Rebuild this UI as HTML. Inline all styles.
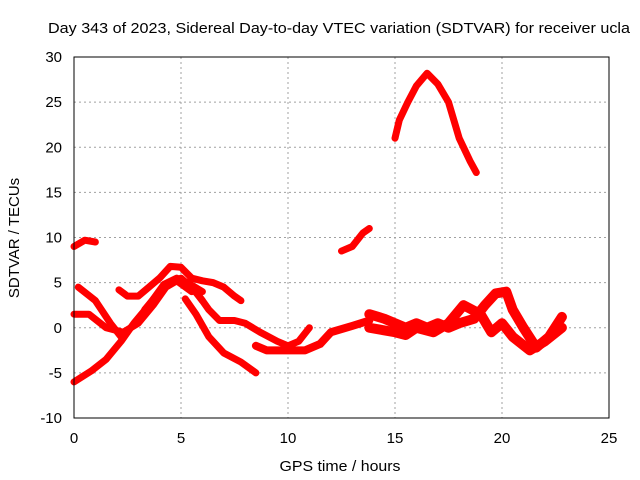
<!DOCTYPE html>
<html><head><meta charset="utf-8"><style>
body{margin:0;background:#fff}
svg{display:block;font-family:"Liberation Sans",sans-serif;font-size:14px}
</style></head><body>
<svg id="c" width="640" height="480">
<text x="339" y="33" text-anchor="middle" textLength="582" lengthAdjust="spacingAndGlyphs" font-size="15" fill="#000">Day 343 of 2023, Sidereal Day-to-day VTEC variation (SDTVAR) for receiver ucla</text>
<text x="340" y="471" text-anchor="middle" textLength="121" lengthAdjust="spacingAndGlyphs" font-size="15">GPS time / hours</text>
<text transform="translate(19,238) rotate(-90)" text-anchor="middle" font-size="15">SDTVAR / TECUs</text>
<g id="grid"></g><g id="series"></g>
<rect x="74" y="57" width="535" height="361" fill="none" stroke="#000" stroke-width="1"/>
</svg>
<script>
const xTicks=[0,5,10,15,20,25];
const yTicks=[-10,-5,0,5,10,15,20,25,30];
const s1=[[15,21],[15.2,23],[15.6,25],[16,26.8],[16.5,28.2],[17,27],[17.5,25],[18,21],[18.5,18.5],[18.8,17.2]];
const s2=[[12.5,8.5],[13,9],[13.5,10.5],[13.8,11]];
const s3=[[0,9],[0.5,9.7],[1,9.5]];
const s4=[[0.2,4.5],[1,3],[1.7,0.5],[2.2,-1]];
const s5=[[0,1.5],[0.7,1.5],[1.5,0],[2.3,-0.5],[3,0.5],[3.7,2.5],[4.3,4.5],[4.8,5.2],[5.5,4]];
const s6=[[0,-6],[0.8,-4.8],[1.5,-3.5],[2.2,-1.5],[2.8,0.5],[3.5,2.5],[4.2,4.8],[4.8,5.5],[5.3,5],[6,4]];
const s7=[[2.1,4.2],[2.5,3.5],[3,3.5],[3.5,4.5],[4,5.5],[4.5,6.8],[5,6.7],[5.5,5.5],[6,5.2],[6.5,5],[7,4.5],[7.5,3.5],[7.8,3]];
const s8=[[3.3,2],[4,4],[4.5,5],[5,5.3],[5.5,4.5],[6,3]];
const s9=[[5.2,3.2],[5.7,1.5],[6.3,-1],[7,-2.8],[7.8,-3.8],[8.5,-5]];
const s10=[[5,5.5],[5.7,4],[6.3,2],[6.8,0.8],[7.5,0.8],[8,0.5],[8.7,-0.5],[9.5,-1.5],[10,-2],[10.5,-1.5],[11,0]];
const s11=[[8.5,-2],[9,-2.5],[10,-2.5],[10.8,-2.5],[11.5,-1.8],[12,-0.5],[13,0.2],[13.8,0.8]];
const s12=[[13.8,1.5],[14.5,1],[15,0.5],[15.5,0],[16,0.5],[16.5,0],[17,0.5],[17.5,0],[18,0.5],[18.7,1],[19.2,2.5],[19.7,3.8],[20.2,4],[20.5,2],[21,0],[21.6,-2.2],[22.2,-1],[22.8,1.2]];
const s13=[[13.8,0],[15,-0.5],[15.5,-0.8],[16,0],[16.8,-0.5],[17.5,0.5],[18.2,2.5],[19,1.5],[19.5,-0.5],[20,0.5],[20.5,-1],[21.3,-2.5],[22,-1.5],[22.8,0]];
const allSeries=[s1,s2,s3,s4,s5,s6,s7,s8,s9,s10,s11,s12,s13];
const widths=[7,7,7,7,7,7,7,7,7,7,8,10,10];
const X=v=>74+v*(535/25), Y=v=>418-(v+10)*(361/40);
const NS='http://www.w3.org/2000/svg';
const g=document.getElementById('grid'), sg=document.getElementById('series');
function mk(tag,at,parent){const e=document.createElementNS(NS,tag);for(const k in at)e.setAttribute(k,at[k]);parent.appendChild(e);return e;}
xTicks.forEach(t=>{
 if(t>0&&t<25){const l=mk('line',{x1:X(t),x2:X(t),y1:57,y2:418,stroke:'#a0a0a0','stroke-dasharray':'2,3'},g);
 
 }
 const tx=mk('text',{x:X(t),y:443,'text-anchor':'middle','font-size':15},g);tx.textContent=t;
 
 
});
yTicks.forEach(t=>{
 if(t>-10&&t<30){const l=mk('line',{x1:74,x2:609,y1:Y(t),y2:Y(t),stroke:'#a0a0a0','stroke-dasharray':'2,3'},g);
 
 }
 const tx=mk('text',{x:62,y:Y(t)+5,'text-anchor':'end','font-size':15},g);tx.textContent=t;
 
 
});
allSeries.forEach((s,i)=>{
 const p=mk('polyline',{points:s.map(d=>X(d[0])+','+Y(d[1])).join(' '),fill:'none',stroke:'#ff0000','stroke-width':widths[i],'stroke-linejoin':'round','stroke-linecap':'round'},sg);
 
 
});
</script>
</body></html>
